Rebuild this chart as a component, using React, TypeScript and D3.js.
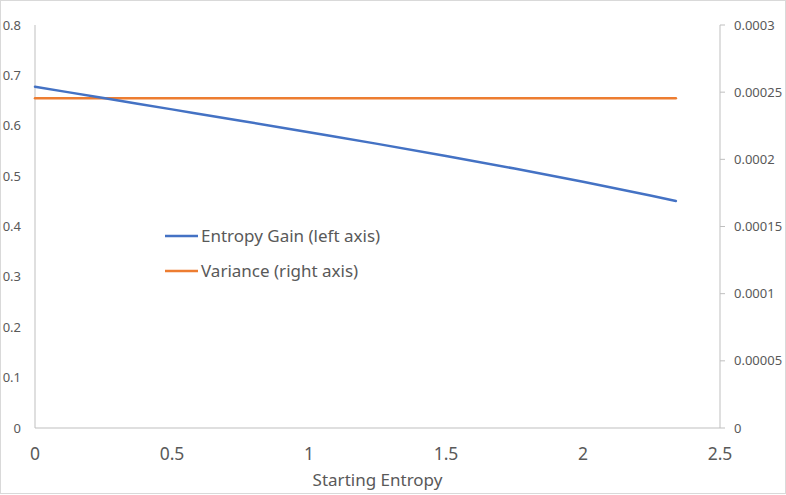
import React, { useEffect, useRef } from 'react';
import * as d3 from 'd3';

// values
const startingEntropy = [0, 0.25, 0.5, 0.75, 1.0, 1.25, 1.5, 1.75, 2.0, 2.25, 2.339];
const entropyGain = [0.6775, 0.655, 0.6325, 0.61, 0.587, 0.564, 0.54, 0.515, 0.489, 0.461, 0.4506];
const variance = [0.0002455, 0.0002455, 0.0002455, 0.0002455, 0.0002455, 0.0002455, 0.0002455, 0.0002455, 0.0002455, 0.0002455, 0.0002455];

const xTicks = [0, 0.5, 1, 1.5, 2, 2.5];
const leftTicks = [0, 0.1, 0.2, 0.3, 0.4, 0.5, 0.6, 0.7, 0.8];
const rightTicks = [0, 0.00005, 0.0001, 0.00015, 0.0002, 0.00025, 0.0003];
const rightTickLabels = ['0', '0.00005', '0.0001', '0.00015', '0.0002', '0.00025', '0.0003'];

const legendItems = [
  { label: 'Entropy Gain (left axis)', color: '#4472C4' },
  { label: 'Variance (right axis)', color: '#ED7D31' },
];

const App: React.FC = () => {
  const svgRef = useRef<SVGSVGElement>(null);

  useEffect(() => {
    document.body.style.margin = '0';
    if (!svgRef.current) return;

    const width = 786;
    const height = 495;
    const font = "'Noto Sans', sans-serif";
    const textColor = '#595959';
    const axisColor = '#bfbfbf';

    const svg = d3.select(svgRef.current);
    svg.selectAll('*').remove();
    svg.attr('width', width).attr('height', height).style('background', '#fff');

    // chart area border
    svg.append('rect')
      .attr('x', 0.5).attr('y', 0.5)
      .attr('width', width - 1).attr('height', height - 2)
      .attr('fill', '#fff').attr('stroke', '#d9d9d9');

    const x = d3.scaleLinear().domain([0, 2.5]).range([35, 720]);
    const yLeft = d3.scaleLinear().domain([0, 0.8]).range([428, 25]);
    const yRight = d3.scaleLinear().domain([0, 0.0003]).range([428, 25]);

    // axis lines
    svg.append('line')
      .attr('x1', x(0)).attr('x2', x(0))
      .attr('y1', yLeft(0.8)).attr('y2', yLeft(0))
      .attr('stroke', axisColor);
    svg.append('line')
      .attr('x1', x(0)).attr('x2', x(2.5))
      .attr('y1', yLeft(0)).attr('y2', yLeft(0))
      .attr('stroke', axisColor);
    svg.append('line')
      .attr('x1', x(2.5)).attr('x2', x(2.5))
      .attr('y1', yRight(0.0003)).attr('y2', yRight(0))
      .attr('stroke', axisColor);

    // left tick labels
    svg.append('g').selectAll('text')
      .data(leftTicks)
      .join('text')
      .attr('x', 21)
      .attr('y', d => yLeft(d))
      .attr('dy', '0.35em')
      .attr('text-anchor', 'end')
      .style('font-family', font)
      .style('font-size', '13px')
      .style('fill', textColor)
      .text(d => d3.format('.1~f')(d));

    // right ticks + labels
    const rg = svg.append('g');
    rg.selectAll('line')
      .data(rightTicks)
      .join('line')
      .attr('x1', x(2.5)).attr('x2', x(2.5) + 5)
      .attr('y1', d => yRight(d)).attr('y2', d => yRight(d))
      .attr('stroke', axisColor);
    rg.selectAll('text')
      .data(rightTicks)
      .join('text')
      .attr('x', 734)
      .attr('y', d => yRight(d))
      .attr('dy', '0.35em')
      .style('font-family', font)
      .style('font-size', '13px')
      .style('fill', textColor)
      .text((d, i) => rightTickLabels[i]);

    // bottom tick labels
    svg.append('g').selectAll('text')
      .data(xTicks)
      .join('text')
      .attr('x', d => x(d))
      .attr('y', 460)
      .attr('text-anchor', 'middle')
      .style('font-family', font)
      .style('font-size', '17.5px')
      .style('fill', textColor)
      .text(d => String(d));

    svg.append('text')
      .attr('x', (x(0) + x(2.5)) / 2)
      .attr('y', 486)
      .attr('text-anchor', 'middle')
      .style('font-family', font)
      .style('font-size', '17px')
      .style('fill', textColor)
      .text('Starting Entropy');

    // series
    const idx = d3.range(startingEntropy.length);
    const gainLine = d3.line<number>()
      .x(i => x(startingEntropy[i]))
      .y(i => yLeft(entropyGain[i]))
      .curve(d3.curveMonotoneX);
    const varLine = d3.line<number>()
      .x(i => x(startingEntropy[i]))
      .y(i => yRight(variance[i]));

    svg.append('path')
      .attr('d', varLine(idx))
      .attr('fill', 'none')
      .attr('stroke', legendItems[1].color)
      .attr('stroke-width', 2.5)
      .attr('stroke-linecap', 'round');
    svg.append('path')
      .attr('d', gainLine(idx))
      .attr('fill', 'none')
      .attr('stroke', legendItems[0].color)
      .attr('stroke-width', 2.5)
      .attr('stroke-linecap', 'round');

    // legend
    const legend = svg.append('g')
      .selectAll('g')
      .data(legendItems)
      .join('g')
      .attr('transform', (d, i) => `translate(165,${236 + i * 35})`);
    legend.append('line')
      .attr('x1', 0).attr('x2', 33)
      .attr('stroke', d => d.color)
      .attr('stroke-width', 2.5);
    legend.append('text')
      .attr('x', 36)
      .attr('dy', '0.35em')
      .style('font-family', font)
      .style('font-size', '17px')
      .style('fill', textColor)
      .text(d => d.label);
  }, []);

  return (
    <div style={{ position: 'absolute', left: 0, top: 0 }}>
      <svg ref={svgRef}></svg>
    </div>
  );
};

export default App;
